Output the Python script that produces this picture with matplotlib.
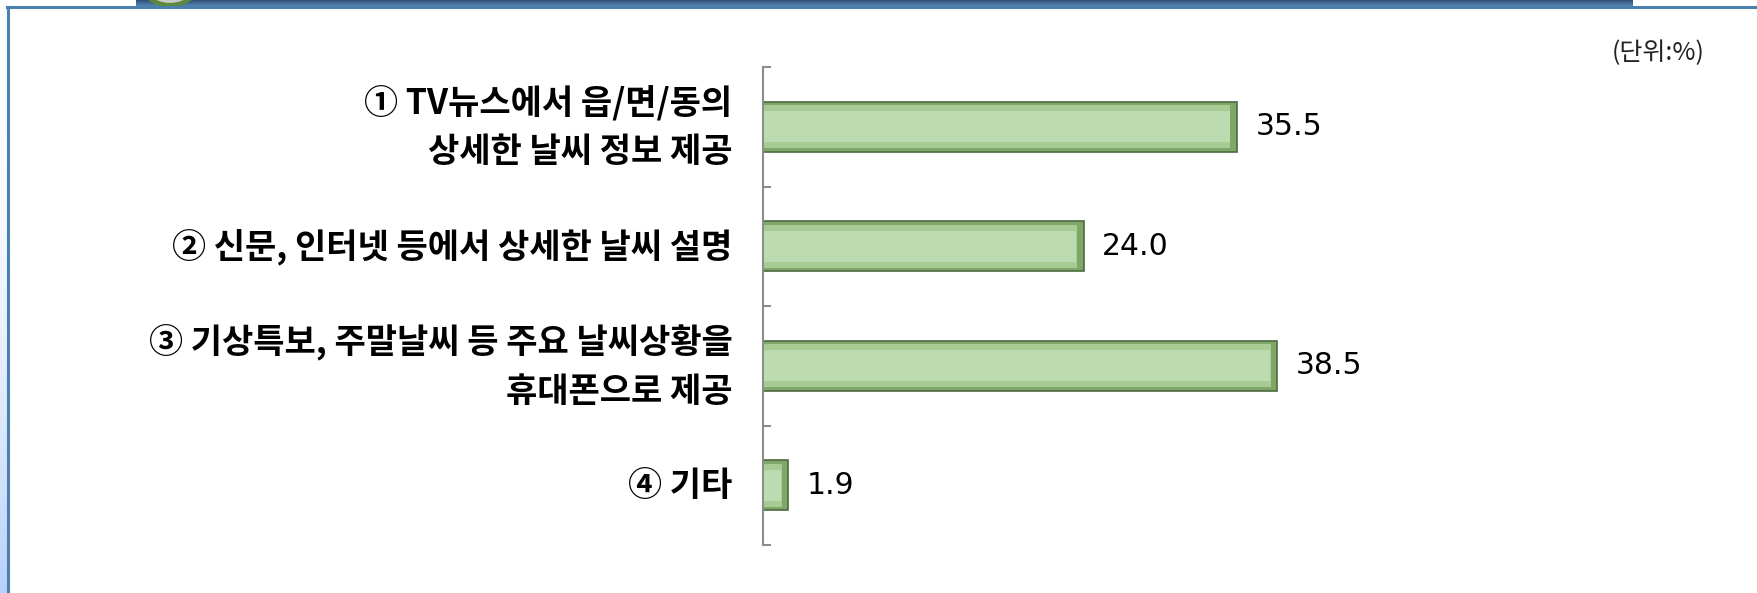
import numpy as np
import matplotlib.pyplot as plt
from matplotlib.patches import Ellipse

# Data
labels = [
    "① TV뉴스에서 읍/면/동의\n상세한 날씨 정보 제공",
    "② 신문, 인터넷 등에서 상세한 날씨 설명",
    "③ 기상특보, 주말날씨 등 주요 날씨상황을\n휴대폰으로 제공",
    "④ 기타",
]
values = [35.5, 24.0, 38.5, 1.9]
unit_note = "(단위:%)"

W, H = 1757, 593
fig = plt.figure(figsize=(W / 100, H / 100), dpi=100)
fig.patch.set_facecolor("white")

# --- page decoration: header band, frame line, left gradient strip
band = np.linspace(0.0, 1.0, 6)[:, None, None]
band_top = np.array([0.20, 0.33, 0.48])
band_bot = np.array([0.33, 0.50, 0.68])
band_img = band_top + (band_bot - band_top) * band
band_img = np.repeat(band_img, 1633 - 136, axis=1)
fig.figimage(band_img, xo=136, yo=H - 6, origin="upper", zorder=1)
fig.add_artist(Ellipse((170 / W, 1 + 22 / H), 62 / W, 54 / H, transform=fig.transFigure,
                       facecolor="#c9c9c9", edgecolor="#5d8a3a", linewidth=3, zorder=2))

strip = np.linspace(0.0, 1.0, H)[:, None, None]
strip_top = np.array([1.0, 1.0, 1.0])
strip_bot = np.array([0.72, 0.82, 0.98])
strip_img = strip_top + (strip_bot - strip_top) * strip ** 2
strip_img = np.repeat(strip_img, 7, axis=1)
fig.figimage(strip_img, xo=0, yo=0, origin="upper", zorder=1)

frame = "#4a7fb0"
fig.add_artist(plt.Line2D([7 / W, 1], [1 - 6.5 / H, 1 - 6.5 / H], color=frame, lw=2.2, zorder=3))
fig.add_artist(plt.Line2D([8 / W, 8 / W], [0, 1 - 6.5 / H], color=frame, lw=2.2, zorder=3))

# --- chart
left_px, right_px = 763, 1704
top_px, bot_px = 67, 545
ax = fig.add_axes([left_px / W, 1 - bot_px / H, (right_px - left_px) / W, (bot_px - top_px) / H])
px_per_unit = 13.36
ax.set_xlim(0, (right_px - left_px) / px_per_unit)
ax.set_ylim(len(values) - 0.5, -0.5)

y = np.arange(len(values))
bh = 0.42
# beveled look: dark outer bar, lighter inner bars
vals = np.array(values)
inset_x = 4 / px_per_unit
ax.barh(y, vals, height=bh, color="#7fa76a", edgecolor="#4d6b3d", linewidth=1.2, zorder=2)
ax.barh(y, vals - 2 * inset_x, left=inset_x * 0.3, height=bh * 0.86, color="#a6cc93", linewidth=0, zorder=3)
ax.barh(y, vals - 2.2 * inset_x, left=inset_x * 0.3, height=bh * 0.62, color="#bddbb1", linewidth=0, zorder=4)

for yi, v in zip(y, values):
    ax.annotate(f"{v:.1f}", xy=(v, yi), xytext=(18, 0), textcoords="offset pixels",
                ha="left", va="center", fontsize=21.5, family="DejaVu Sans", color="black")

# axes styling
for s in ["top", "right", "bottom"]:
    ax.spines[s].set_visible(False)
ax.spines["left"].set_color("#8c8c8c")
ax.spines["left"].set_linewidth(1.5)
ax.set_xticks([])
ax.set_yticks(y)
ax.set_yticklabels(labels, family=["Noto Sans CJK KR", "DejaVu Sans"], fontsize=24.5,
                   fontweight="bold", linespacing=1.5, va="center")
ax.tick_params(axis="y", which="major", length=0, pad=22)
ax.set_yticks(np.arange(-0.5, len(values)), minor=True)
ax.tick_params(axis="y", which="minor", direction="in", length=6, width=1.5, color="#8c8c8c")
ax.set_facecolor("none")

fig.text(1705 / W, 1 - 53 / H, unit_note, ha="right", va="center", fontsize=18,
         family=["Noto Sans CJK KR", "DejaVu Sans"], color="#222222")

fig.savefig("out.png", dpi=100)
